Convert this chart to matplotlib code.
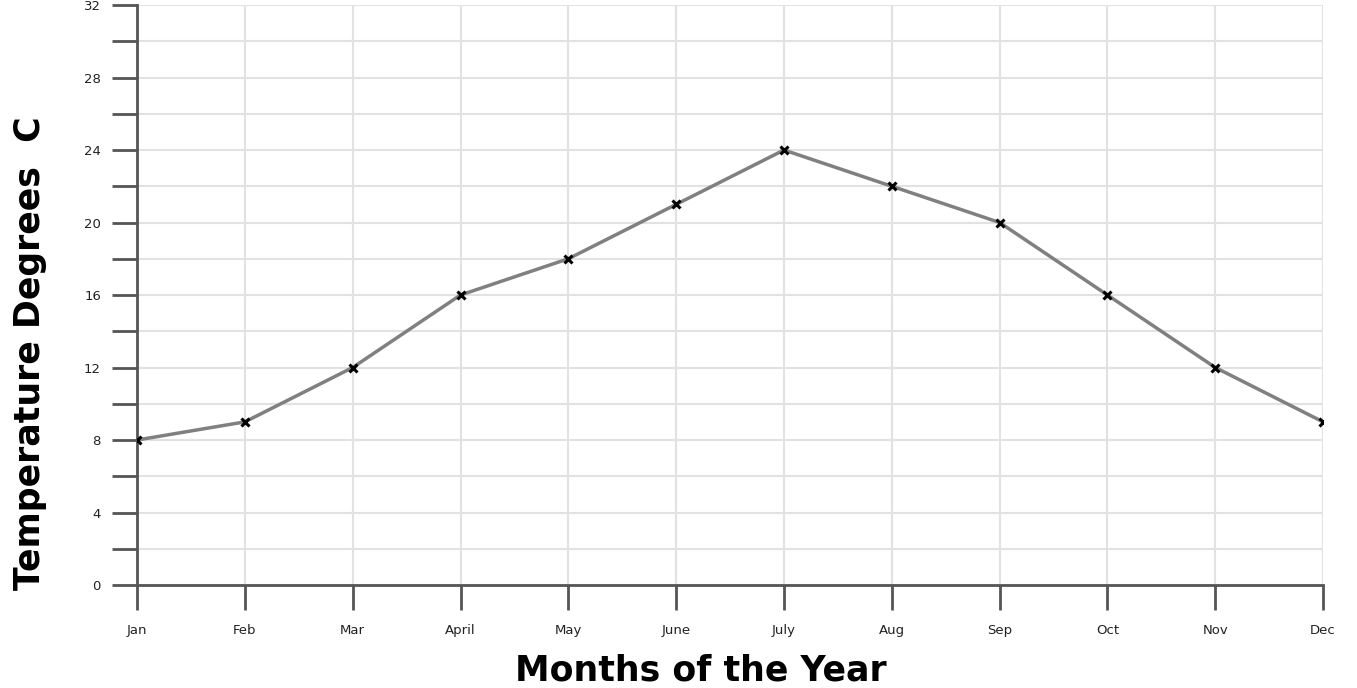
import matplotlib.pyplot as plt
from matplotlib.ticker import MultipleLocator

# datos
meses = ['Jan', 'Feb', 'Mar', 'April', 'May', 'June', 'July', 'Aug', 'Sep', 'Oct', 'Nov', 'Dec']
temperaturas = [8, 9, 12, 16, 18, 21, 24, 22, 20, 16, 12, 9]
ticks_y = [0, 4, 8, 12, 16, 20, 24, 28, 32]

fig = plt.figure(figsize=(13.57, 6.88), dpi=100)
ax = fig.add_axes([0.101, 0.1497, 0.874, 0.843])

x = list(range(len(meses)))
ax.plot(x, temperaturas, color='#808080', lw=2.5, zorder=3)
ax.plot(x, temperaturas, 'x', color='black', ms=6, mew=2.2, zorder=4)

ax.set_xlim(0, len(meses) - 1)
ax.set_ylim(0, 32)
ax.set_xticks(x)
ax.set_xticklabels(meses, fontsize=9.5, family='DejaVu Sans')
ax.set_yticks(ticks_y)
ax.set_yticklabels([str(t) for t in ticks_y], fontsize=9.5, family='DejaVu Sans')
ax.yaxis.set_minor_locator(MultipleLocator(2))

ax.grid(True, which='both', color='#e2e2e2', lw=1.5, zorder=0)
ax.tick_params(axis='both', which='both', length=18, width=2, color='#555555', labelcolor='#222222')
ax.tick_params(axis='x', pad=10)
ax.tick_params(axis='y', pad=8)

for s in ['top', 'right']:
    ax.spines[s].set_visible(False)
for s in ['left', 'bottom']:
    ax.spines[s].set_color('#555555')
    ax.spines[s].set_linewidth(2)

ax.set_xlabel('Months of the Year', fontsize=25, fontweight='bold', family='DejaVu Sans',
              va='center', ha='center')
ax.set_ylabel('Temperature Degrees  C', fontsize=25, fontweight='bold', family='DejaVu Sans',
              va='center', ha='center')
ax.xaxis.set_label_coords(0.4755, -0.147)
ax.yaxis.set_label_coords(-0.09, 0.40)

fig.savefig('out.png', dpi=100)
